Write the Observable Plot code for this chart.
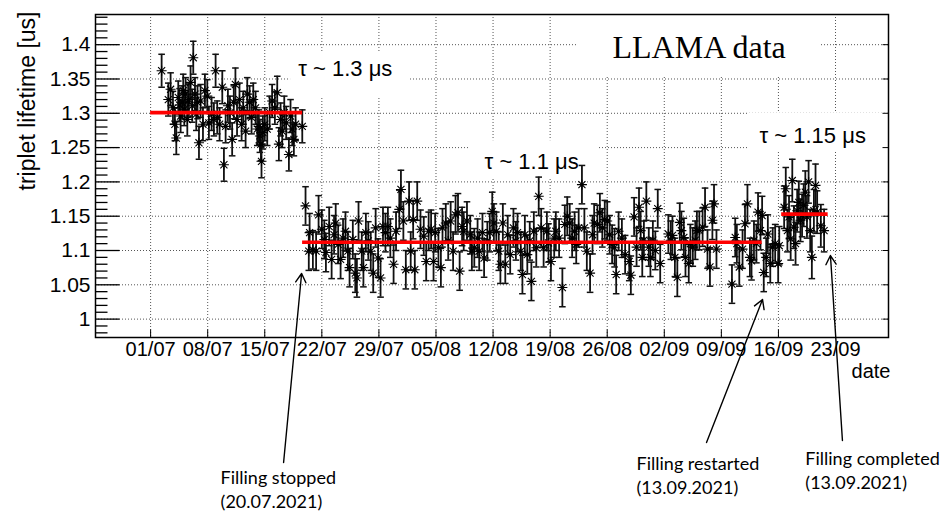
<!DOCTYPE html>
<html><head><meta charset="utf-8">
<script src="https://cdn.jsdelivr.net/npm/d3@7"></script>
<script src="https://cdn.jsdelivr.net/npm/@observablehq/plot@0.6"></script>
<style>
body{margin:0;background:#fff;}
#chart svg{display:block;}
</style></head><body><div id="chart"></div>
<script>
// day offsets counted from 01/07/2021, triplet lifetime in us
const period1 = [[1.35,1.362],[2.17,1.320],[2.45,1.335],[2.74,1.308],[2.98,1.284],[3.15,1.264],[3.39,1.323],[3.55,1.312],[3.68,1.296],[3.88,1.316],[4.0,1.333],[4.13,1.306],[4.29,1.328],[4.5,1.291],[4.6,1.318],[4.7,1.320],[4.9,1.345],[5.1,1.311],[5.23,1.381],[5.44,1.328],[5.6,1.299],[5.75,1.316],[5.93,1.257],[6.13,1.318],[6.42,1.284],[6.66,1.333],[6.95,1.325],[7.15,1.286],[7.48,1.299],[7.76,1.291],[7.97,1.362],[8.17,1.294],[8.46,1.284],[8.79,1.338],[8.99,1.225],[9.2,1.281],[9.48,1.311],[9.73,1.301],[10.0,1.262],[10.2,1.316],[10.4,1.342],[10.6,1.291],[10.9,1.320],[11.16,1.284],[11.36,1.308],[11.65,1.274],[11.85,1.328],[12.14,1.316],[12.38,1.294],[12.59,1.320],[12.87,1.308],[13.08,1.277],[13.28,1.281],[13.4,1.267],[13.53,1.255],[13.6,1.230],[13.77,1.272],[14.0,1.284],[14.3,1.277],[14.6,1.301],[14.9,1.318],[15.24,1.308],[15.53,1.330],[15.73,1.255],[15.94,1.291],[16.14,1.274],[16.39,1.301],[16.63,1.286],[16.96,1.240],[17.16,1.296],[17.37,1.277],[17.57,1.262],[17.78,1.284],[18.6,1.281]];
const period2 = [[19.0,1.165],[19.4,1.099],[19.5,1.126],[19.9,1.101],[20.3,1.099],[20.6,1.152],[21.0,1.131],[21.3,1.116],[21.5,1.097],[21.9,1.135],[22.2,1.087],[22.5,1.123],[22.7,1.140],[23.0,1.109],[23.3,1.087],[23.6,1.118],[23.9,1.128],[24.2,1.099],[24.4,1.075],[24.8,1.116],[25.1,1.067],[25.3,1.060],[25.5,1.143],[25.9,1.099],[26.1,1.075],[26.4,1.126],[26.7,1.114],[27.0,1.099],[27.3,1.067],[27.6,1.133],[27.9,1.089],[28.2,1.060],[28.5,1.135],[28.8,1.126],[29.1,1.135],[29.4,1.118],[29.8,1.080],[30.1,1.128],[30.5,1.160],[30.7,1.189],[31.0,1.143],[31.3,1.072],[31.7,1.172],[31.9,1.099],[32.2,1.145],[32.4,1.072],[32.7,1.172],[33.1,1.131],[33.5,1.121],[33.8,1.084],[34.1,1.128],[34.4,1.131],[34.7,1.084],[34.9,1.126],[35.3,1.104],[35.6,1.075],[35.8,1.133],[36.2,1.140],[36.5,1.114],[36.8,1.143],[37.1,1.099],[37.4,1.152],[37.7,1.155],[37.9,1.070],[38.2,1.135],[38.4,1.128],[38.8,1.143],[39.2,1.123],[39.4,1.099],[39.7,1.104],[40.1,1.118],[40.3,1.099],[40.7,1.126],[40.9,1.089],[41.3,1.114],[41.6,1.126],[41.9,1.157],[42.1,1.140],[42.4,1.128],[42.7,1.099],[42.9,1.080],[43.2,1.140],[43.5,1.080],[43.8,1.123],[44.1,1.094],[44.5,1.133],[44.8,1.114],[45.0,1.126],[45.4,1.099],[45.6,1.065],[45.9,1.123],[46.2,1.094],[46.5,1.114],[46.7,1.055],[47.0,1.128],[47.3,1.104],[47.6,1.179],[47.9,1.133],[48.2,1.104],[48.6,1.128],[48.8,1.111],[49.1,1.084],[49.5,1.118],[49.7,1.128],[50.1,1.118],[50.5,1.046],[50.8,1.138],[51.1,1.150],[51.4,1.140],[51.7,1.118],[52.0,1.128],[52.2,1.109],[52.5,1.133],[52.9,1.196],[53.2,1.133],[53.5,1.099],[53.9,1.067],[54.2,1.123],[54.4,1.140],[54.8,1.138],[55.1,1.155],[55.4,1.133],[55.7,1.145],[56.0,1.143],[56.3,1.123],[56.6,1.109],[56.9,1.104],[57.1,1.065],[57.4,1.128],[57.8,1.118],[58.2,1.094],[58.7,1.084],[58.9,1.064],[59.3,1.149],[59.6,1.105],[59.9,1.163],[60.1,1.129],[60.3,1.090],[60.5,1.115],[60.8,1.172],[61.1,1.105],[61.3,1.090],[61.6,1.115],[61.9,1.100],[62.2,1.161],[62.5,1.081],[63.5,1.124],[63.8,1.115],[64.0,1.122],[64.3,1.090],[64.6,1.061],[64.9,1.141],[65.1,1.129],[65.4,1.119],[65.6,1.090],[66.0,1.081],[66.2,1.110],[66.5,1.105],[66.8,1.115],[67.0,1.129],[67.3,1.129],[67.7,1.134],[68.0,1.163],[68.3,1.102],[68.6,1.076],[68.9,1.144],[69.1,1.168],[69.4,1.102],[71.3,1.051],[71.7,1.119],[71.9,1.110],[72.2,1.076],[72.6,1.102],[72.9,1.139],[73.2,1.168],[73.5,1.090],[73.7,1.085],[74.0,1.115],[74.3,1.110],[74.5,1.156],[74.8,1.129],[75.0,1.151],[75.2,1.068],[75.5,1.090],[75.7,1.124],[76.0,1.081],[76.3,1.105],[76.6,1.110],[76.97,1.081],[77.1,1.107]];
const period3 = [[77.7,1.163],[77.9,1.190],[78.1,1.129],[78.3,1.149],[78.5,1.117],[78.7,1.202],[78.9,1.134],[79.1,1.110],[79.3,1.158],[79.5,1.170],[79.7,1.144],[79.9,1.151],[80.1,1.166],[80.3,1.185],[80.5,1.149],[80.7,1.200],[80.9,1.129],[81.1,1.090],[81.35,1.158],[81.55,1.195],[81.75,1.156],[82.2,1.136],[82.6,1.129]];
const errorHalf = [0.024, 0.028, 0.031];

// fitted lifetime levels
const fitFrom = [0, 18.64, 77.4];
const fitTo = [18.64, 75.0, 83.1];
const fitTau = [1.301, 1.112, 1.153];

// axis ticks
const xTickDays = [0,7,14,21,28,35,42,49,56,63,70,77,84];
const xTickLabels = ["01/07","08/07","15/07","22/07","29/07","05/08","12/08","19/08","26/08","02/09","09/09","16/09","23/09"];
const yTicks = [1,1.05,1.1,1.15,1.2,1.25,1.3,1.35,1.4];
const yTickLabels = ["1","1.05","1.1","1.15","1.2","1.25","1.3","1.35","1.4"];

// text annotations (anchored in data coordinates)
const tauText = ["τ ~ 1.3 μs","τ ~ 1.1 μs","τ ~ 1.15 μs"];
const tauDay = [18.1, 40.96, 74.68];
const tauVal = [1.3537, 1.2195, 1.2574];
const boxX1 = [17.17, 38.99, 73.33, 52.36];
const boxX2 = [31.88, 54.81, 90.5, 82.16];
const boxY1 = [1.3216, 1.2035, 1.243, 1.355];
const boxY2 = [1.3886, 1.26, 1.3, 1.444];
const noteText = ["Filling stopped\n(20.07.2021)","Filling restarted\n(13.09.2021)","Filling completed\n(13.09.2021)"];
const noteDay = [8.58, 59.6, 80.3];
const noteVal = [0.7538, 0.7742, 0.7815];
const arrowTailDay = [16.31, 68.18, 84.85];
const arrowTailVal = [0.791, 0.8201, 0.823];
const arrowHeadDay = [18.52, 75.05, 83.38];
const arrowHeadVal = [1.0665, 1.0286, 1.0927];

const rows = [period1, period2, period3].flatMap((p, k) => p.map(([d, v]) => ({d, v, e: errorHalf[k]})));
const fits = fitTau.map((t, i) => ({from: fitFrom[i], to: fitTo[i], tau: t}));
const boxes = boxX1.map((x, i) => ({x1: x, x2: boxX2[i], y1: boxY1[i], y2: boxY2[i]}));
const taus = tauText.map((t, i) => ({t, d: tauDay[i], v: tauVal[i]}));
const notes = noteText.map((t, i) => ({t, d: noteDay[i], v: noteVal[i]}));
const arrows = arrowTailDay.map((d, i) => ({x1: d, y1: arrowTailVal[i], x2: arrowHeadDay[i], y2: arrowHeadVal[i]}));
const yMinor = d3.range(98, 145).map(i => i / 100).filter(v => Math.round(v * 100) % 5 !== 0);
const xLab = new Map(xTickDays.map((d, i) => [d, xTickLabels[i]]));
const yLab = new Map(yTicks.map((d, i) => [d, yTickLabels[i]]));

const star8 = {draw(c, s) {const r = Math.sqrt(s / Math.PI), q = r * Math.SQRT1_2;
  c.moveTo(-r, 0); c.lineTo(r, 0); c.moveTo(0, -r); c.lineTo(0, r);
  c.moveTo(-q, -q); c.lineTo(q, q); c.moveTo(-q, q); c.lineTo(q, -q);}};
const cap = {draw(c, s) {const r = Math.sqrt(s / Math.PI); c.moveTo(-r, 0); c.lineTo(r, 0);}};
const lineSym = (dx, dy) => ({draw(c) {c.moveTo(0, 0); c.lineTo(dx, dy);}});

const sans = "'Liberation Sans', Arial, Helvetica, sans-serif";
const grid = {stroke: "#555", strokeOpacity: 1, strokeDasharray: "1,2", strokeWidth: 1};

const chart = Plot.plot({
  width: 944, height: 514,
  marginLeft: 95, marginRight: 56, marginTop: 14, marginBottom: 177,
  style: {fontFamily: sans, background: "#fff", color: "#000"},
  x: {domain: [-6.76, 90.5]},
  y: {domain: [0.9732, 1.444]},
  marks: [
    Plot.gridX(xTickDays, grid),
    Plot.gridY(yTicks, grid),
    Plot.rect(boxes, {x1: "x1", x2: "x2", y1: "y1", y2: "y2", fill: "#fff"}),
    Plot.dot(yTicks, {y: d => d, frameAnchor: "left", symbol: lineSym(24, 0), stroke: "#000", strokeWidth: 1.3}),
    Plot.dot(yMinor, {y: d => d, frameAnchor: "left", symbol: lineSym(12, 0), stroke: "#000", strokeWidth: 1.3}),
    Plot.dot(yTicks, {y: d => d, frameAnchor: "right", symbol: lineSym(-6, 0), stroke: "#000", strokeWidth: 1}),
    Plot.dot(xTickDays, {x: d => d, frameAnchor: "bottom", symbol: lineSym(0, -8), stroke: "#000", strokeWidth: 1}),
    Plot.ruleX(rows, {x: "d", y1: r => r.v - r.e, y2: r => r.v + r.e, stroke: "#111", strokeWidth: 1.8}),
    Plot.dot(rows, {x: "d", y: r => r.v - r.e, symbol: cap, r: 3.3, fill: "none", stroke: "#111", strokeWidth: 1.5}),
    Plot.dot(rows, {x: "d", y: r => r.v + r.e, symbol: cap, r: 3.3, fill: "none", stroke: "#111", strokeWidth: 1.5}),
    Plot.dot(rows, {x: "d", y: "v", symbol: star8, r: 5, fill: "none", stroke: "#000", strokeWidth: 1.1}),
    Plot.dot(rows, {x: "d", y: "v", r: 1.6, fill: "#000"}),
    Plot.ruleY(fits, {y: "tau", x1: "from", x2: "to", stroke: "#ff0000", strokeWidth: 3.6}),
    Plot.frame({stroke: "#000", strokeWidth: 1.5}),
    Plot.axisY(yTicks, {tickSize: 0, tickPadding: 5, tickFormat: d => yLab.get(d), fontSize: 21, label: null}),
    Plot.axisX(xTickDays, {tickSize: 0, tickPadding: 4, tickFormat: d => xLab.get(d), fontSize: 20, label: null}),
    Plot.text(["triplet lifetime [us]"], {frameAnchor: "top-left", dx: -68, dy: -3, rotate: -90, textAnchor: "end", lineAnchor: "middle", fontSize: 23, fill: "#000"}),
    Plot.text(["date"], {frameAnchor: "bottom-right", dx: 2, dy: 34, textAnchor: "end", lineAnchor: "middle", fontSize: 20, fill: "#000"}),
    Plot.text(["LLAMA data"], {x: () => 56.65, y: () => 1.3813, textAnchor: "start", lineAnchor: "bottom", fontSize: 32, fontFamily: "'Liberation Serif', 'Times New Roman', serif", fill: "#000"}),
    Plot.text(taus, {x: "d", y: "v", text: "t", textAnchor: "start", lineAnchor: "bottom", fontSize: 22, fill: "#000"}),
    Plot.arrow(arrows, {x1: "x1", y1: "y1", x2: "x2", y2: "y2", stroke: "#000", strokeWidth: 1.4, headLength: 11}),
    Plot.text(notes, {x: "d", y: "v", text: "t", textAnchor: "start", lineAnchor: "middle", lineHeight: 1.35, fontSize: 18, fontFamily: "Lato, 'Open Sans', sans-serif", fill: "#000"})
  ]
});
document.getElementById("chart").appendChild(chart);
</script></body></html>
